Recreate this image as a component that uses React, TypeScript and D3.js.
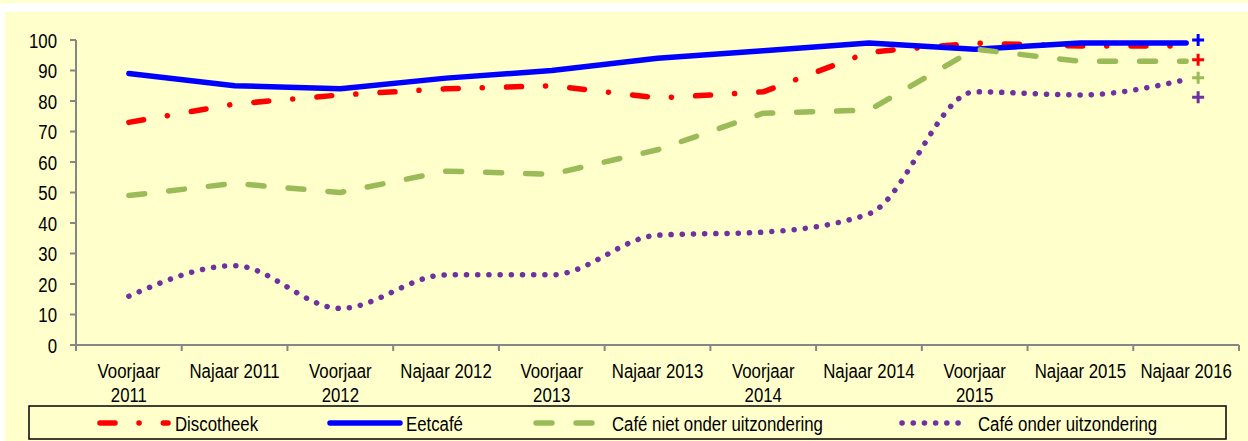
import React, { useEffect, useRef } from 'react';
import * as d3 from 'd3';

const categories = ["Voorjaar 2011", "Najaar 2011", "Voorjaar 2012", "Najaar 2012", "Voorjaar 2013", "Najaar 2013", "Voorjaar 2014", "Najaar 2014", "Voorjaar 2015", "Najaar 2015", "Najaar 2016"];
const discotheek = [73, 79, 82, 84, 85, 81, 83, 96, 99, 98, 98];
const eetcafe = [89, 85, 84, 87.5, 90, 94, 96.5, 99, 97, 99, 99];
const cafeNiet = [49, 53, 50, 57, 56, 64, 76, 77, 97, 93, 93];
const cafeOnder = [16, 26, 12, 23, 23, 36, 37, 43, 83, 82, 87];
// the "+" marks right of the last point
const endMarks = [93.5, 100, 87.6, 81.2];
const yTicks = [0, 10, 20, 30, 40, 50, 60, 70, 80, 90, 100];

const seriesNames = ["Discotheek", "Eetcafé", "Café niet onder uitzondering", "Café onder uitzondering"];
const seriesColors = ["#ff0000", "#0000ff", "#9bbb59", "#7030a0"];
const seriesDash = ["15 24 0.1 24.2", null, "16 24", "0.1 11.1"];

const FONT = "'Liberation Sans', Arial, sans-serif";
const SQUEEZE = 0.8; // no narrow font installed, so squeeze the glyphs

// text placed at (x,y) but horizontally squeezed
function label(parent: any, x: number, y: number, txt: string | number, anchor = 'start', size = 21) {
    return parent.append('g').attr('transform', `translate(${x},${y}) scale(${SQUEEZE},1)`)
        .append('text').attr('x', 0).attr('y', 0).attr('dy', '0.36em')
        .attr('text-anchor', anchor).attr('font-family', FONT).attr('font-size', size)
        .attr('fill', '#000').text(txt);
}

function App() {
    const svgRef = useRef<SVGSVGElement>(null);

    useEffect(() => {
        const svg = d3.select(svgRef.current);
        svg.selectAll('*').remove();

        const W = 1248, H = 441;
        // panel
        svg.append('rect').attr('width', W).attr('height', H).attr('fill', '#ffffff');
        svg.append('rect').attr('x', 0).attr('y', 0).attr('width', W).attr('height', 3).attr('fill', '#ffffcc');
        svg.append('rect').attr('x', 5).attr('y', 12).attr('width', W - 5).attr('height', H - 12).attr('fill', '#ffffcc');

        const x = d3.scaleBand<string>().domain(categories).range([76, 1239]).padding(0);
        const y = d3.scaleLinear().domain([0, 100]).range([345, 40]);
        const cx = (c: string) => (x(c) as number) + x.bandwidth() / 2;

        const axisColor = '#868686';

        // y axis
        const gy = svg.append('g');
        gy.append('line').attr('x1', 76).attr('x2', 76).attr('y1', y(100)).attr('y2', y(0))
            .attr('stroke', axisColor).attr('stroke-width', 2);
        yTicks.forEach(t => {
            gy.append('line').attr('x1', 70).attr('x2', 76).attr('y1', y(t)).attr('y2', y(t))
                .attr('stroke', axisColor).attr('stroke-width', 2);
            label(gy, 57, y(t), t, 'end');
        });

        // x axis
        const gx = svg.append('g');
        gx.append('line').attr('x1', 76).attr('x2', 1239).attr('y1', y(0)).attr('y2', y(0))
            .attr('stroke', axisColor).attr('stroke-width', 2);
        const edges = categories.map(c => x(c) as number).concat([1239]);
        edges.forEach(e => {
            gx.append('line').attr('x1', e).attr('x2', e).attr('y1', y(0)).attr('y2', y(0) + 6)
                .attr('stroke', axisColor).attr('stroke-width', 2);
        });
        categories.forEach(c => {
            const lines = c.startsWith('Voorjaar') ? c.split(' ') : [c];
            lines.forEach((l, i) => {
                label(gx, cx(c), 370.5 + i * 24, l, 'middle');
            });
        });

        // lines
        const allSeries = [discotheek, eetcafe, cafeNiet, cafeOnder];
        allSeries.forEach((vals, i) => {
            const line = d3.line<number>()
                .x((_, j) => cx(categories[j]))
                .y(v => y(v))
                .curve(i === 3 ? d3.curveMonotoneX : d3.curveLinear);
            const p = svg.append('path').attr('d', line(vals) as string)
                .attr('fill', 'none').attr('stroke', seriesColors[i]).attr('stroke-width', 5.5)
                .attr('stroke-linecap', 'round').attr('stroke-linejoin', 'round');
            if (seriesDash[i]) p.attr('stroke-dasharray', seriesDash[i] as string);
        });

        // end "+" marks
        const mx = cx(categories[categories.length - 1]) + 12;
        endMarks.forEach((v, i) => {
            svg.append('path').attr('d', `M${mx - 6},${y(v)}H${mx + 6}M${mx},${y(v) - 6}V${y(v) + 6}`)
                .attr('stroke', seriesColors[i]).attr('stroke-width', 3).attr('fill', 'none');
        });

        // legend
        const lg = svg.append('g');
        lg.append('rect').attr('x', 29).attr('y', 406).attr('width', 1197).attr('height', 33)
            .attr('fill', 'none').attr('stroke', '#000').attr('stroke-width', 1.5);
        const legendX = [[100, 168, 175], [330, 400, 406], [536, 597, 612], [902, 963, 978]];
        const ly = 423;
        seriesNames.forEach((name, i) => {
            const [a, b, tx] = legendX[i];
            const p = lg.append('line').attr('x1', a).attr('x2', b).attr('y1', ly).attr('y2', ly)
                .attr('stroke', seriesColors[i]).attr('stroke-width', 5.5).attr('stroke-linecap', 'round');
            if (seriesDash[i]) p.attr('stroke-dasharray', seriesDash[i] as string);
            label(lg, tx, ly, name);
        });
    }, []);

    return (
        <svg ref={svgRef} width={1248} height={441}
            style={{ position: 'absolute', left: 0, top: 0, display: 'block' }} />
    );
}

export default App;
